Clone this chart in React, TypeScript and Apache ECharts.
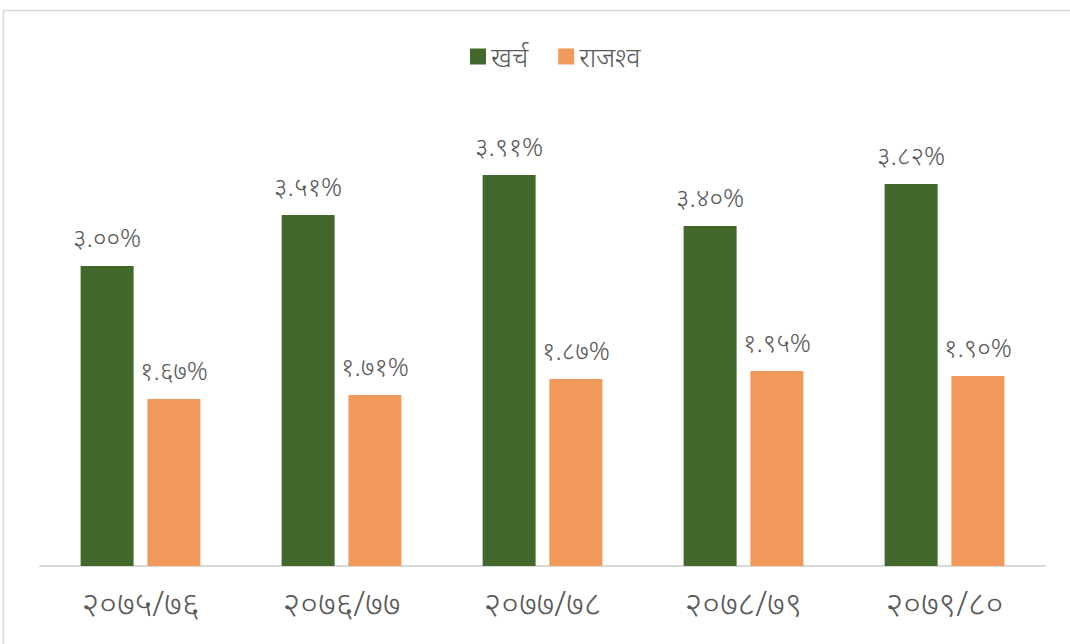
import React, { useEffect, useRef } from "react";
import * as echarts from "echarts";

const categories = ["२०७५/७६", "२०७६/७७", "२०७७/७८", "२०७८/७९", "२०७९/८०"];
const seriesNames = ["खर्च", "राजश्व"];
const expenditure = [3.0, 3.51, 3.91, 3.4, 3.82];
const revenue = [1.67, 1.71, 1.87, 1.95, 1.9];
const colors = ["#43682b", "#f1995a"];

const devDigits = "०१२३४५६७८९";
const toDev = (s: string) => s.replace(/[0-9]/g, (d) => devDigits[Number(d)]);

const FONT = "'Noto Sans', 'DejaVu Sans', sans-serif";
const TEXT = "#595959";

export default function App() {
  const ref = useRef<HTMLDivElement>(null);
  useEffect(() => {
    document.body.style.margin = "0";
    const chart = echarts.init(ref.current!, null, { renderer: "svg" });
    const label = {
      show: true,
      position: "top" as const,
      distance: 16,
      color: TEXT,
      fontSize: 26,
      fontWeight: 300,
      fontFamily: FONT,
      formatter: (p: any) => toDev(Number(p.value).toFixed(2)) + "%",
    };
    chart.setOption({
      animation: false,
      backgroundColor: "#ffffff",
      graphic: [
        {
          type: "rect",
          shape: { x: 3.5, y: 10.5, width: 1200, height: 800 },
          style: { fill: "none", stroke: "#d9d9d9", lineWidth: 1.5 },
          silent: true,
        },
      ],
      legend: {
        data: seriesNames,
        top: 38,
        left: 465,
        itemWidth: 16,
        itemHeight: 16,
        itemGap: 30,
        icon: "rect",
        textStyle: { color: TEXT, fontSize: 27, fontWeight: 300, fontFamily: FONT },
      },
      grid: { left: 40, right: 25, top: 66, bottom: 78, containLabel: false },
      xAxis: {
        type: "category",
        data: categories,
        axisLine: { lineStyle: { color: "#d9d9d9", width: 2 } },
        axisTick: { show: false },
        axisLabel: { color: TEXT, fontSize: 34, fontWeight: 300, fontFamily: FONT, margin: 20 },
      },
      yAxis: {
        type: "value",
        min: 0,
        max: 5,
        show: false,
        splitLine: { show: false },
      },
      series: [
        {
          name: seriesNames[0],
          type: "bar",
          data: expenditure,
          itemStyle: { color: colors[0] },
          barWidth: 53,
          barGap: "26%",
          label,
        },
        {
          name: seriesNames[1],
          type: "bar",
          data: revenue,
          itemStyle: { color: colors[1] },
          barWidth: 53,
          label,
        },
      ],
    });
    return () => chart.dispose();
  }, []);
  return <div ref={ref} style={{ width: 1070, height: 644 }} />;
}
